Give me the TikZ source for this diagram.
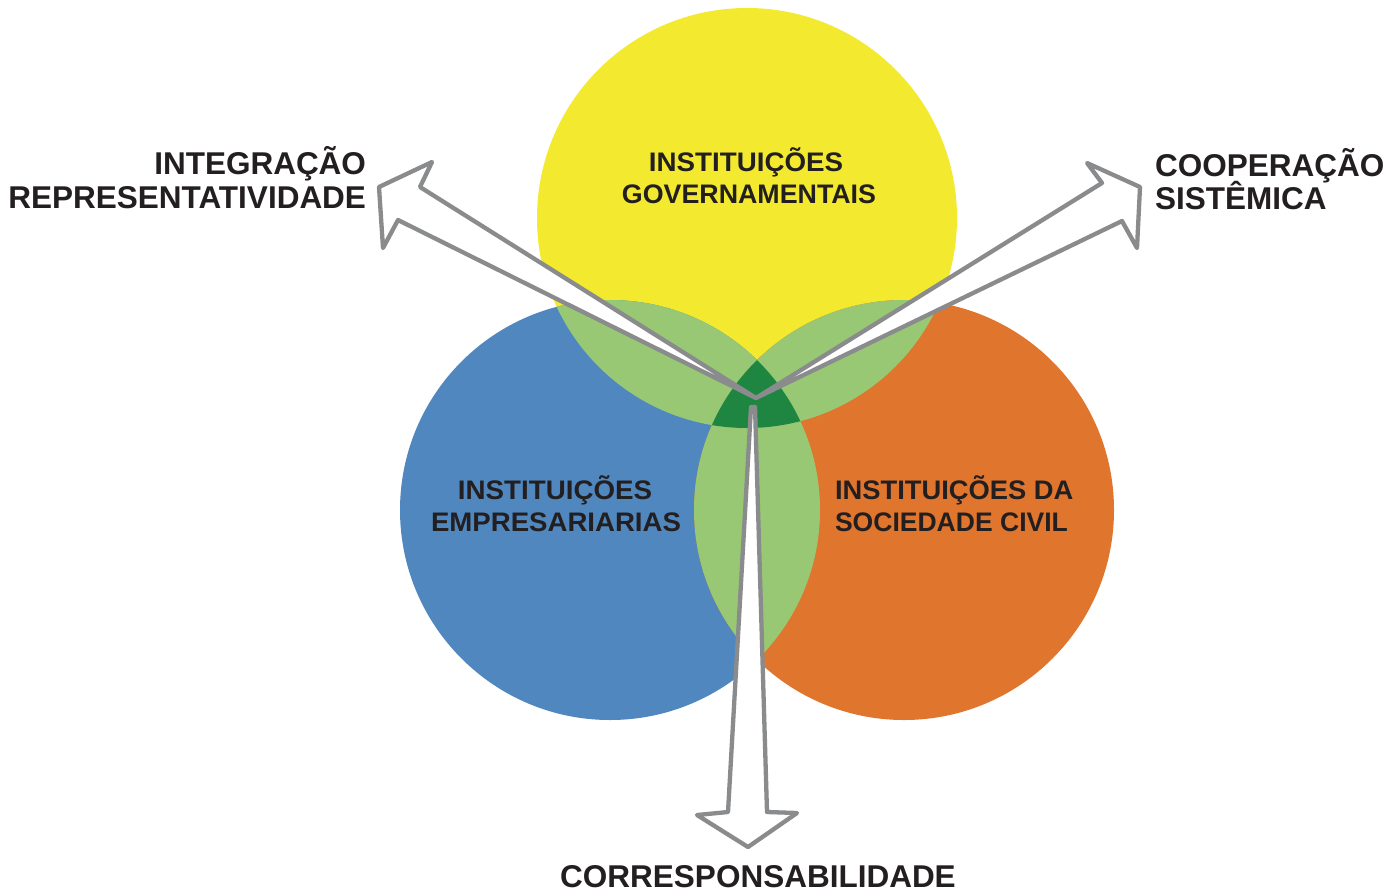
\documentclass[tikz,border=0pt]{standalone}
\usepackage{fontspec}
\usepackage{graphicx}
\setmainfont{Liberation Sans}
\definecolor{cyel}{HTML}{F3EA2F}
\definecolor{cblu}{HTML}{4F87BE}
\definecolor{cora}{HTML}{E0752D}
\definecolor{clgr}{HTML}{98C873}
\definecolor{cdgr}{HTML}{1F8641}
\definecolor{cgry}{HTML}{8A8B8D}
\definecolor{ctxt}{HTML}{231F20}
\newcommand{\outfnt}{\fontsize{31.5}{36}\selectfont\bfseries}
\newcommand{\infnt}{\fontsize{26.8}{30}\selectfont\bfseries}
\begin{document}
\begin{tikzpicture}[x=1pt,y=-1pt,
  outerlbl/.style={inner sep=0pt,outer sep=0pt,text=ctxt,font=\outfnt},
  innerlbl/.style={inner sep=0pt,outer sep=0pt,text=ctxt,font=\infnt},
  bigarrow/.style={draw=cgry,fill=white,line width=4.3pt,line join=round}]
\useasboundingbox[fill=white] (0,0) rectangle (1391,892);
\coordinate (cy) at (747,218);
\coordinate (cb) at (610,510);
\coordinate (co) at (904,510);
% circles
\fill[cyel] (cy) circle[radius=210];
\fill[cblu] (cb) circle[radius=210];
\fill[cora] (co) circle[radius=210];
% pairwise overlaps
\begin{scope}
  \clip (cy) circle[radius=210];
  \fill[clgr] (cb) circle[radius=210];
  \fill[clgr] (co) circle[radius=210];
\end{scope}
\begin{scope}
  \clip (cb) circle[radius=210];
  \fill[clgr] (co) circle[radius=210];
\end{scope}
% triple overlap
\begin{scope}
  \clip (cy) circle[radius=210];
  \clip (cb) circle[radius=210];
  \fill[cdgr] (co) circle[radius=210];
\end{scope}
% inner labels
\node[innerlbl,anchor=base] (g1) at (746,171) {\scalebox{1.035}[1]{INSTITUIÇÕES}};
\node[innerlbl,anchor=base] (g2) at (749,203) {\scalebox{1.0}[1]{GOVERNAMENTAIS}};
\node[innerlbl,anchor=base] (b1) at (555,499) {\scalebox{1.035}[1]{INSTITUIÇÕES}};
\node[innerlbl,anchor=base] (b2) at (556,531) {\scalebox{1.03}[1]{EMPRESARIARIAS}};
\node[innerlbl,anchor=base west] (o1) at (835,499) {\scalebox{1.02}[1]{INSTITUIÇÕES DA}};
\node[innerlbl,anchor=base west] (o2) at (835,531) {\scalebox{0.99}[1]{SOCIEDADE CIVIL}};
% arrows
\coordinate (tail) at (756,398);
\draw[bigarrow] (tail) -- (398,220) -- (383,248) -- (379,187) -- (432,162) -- (420,187) -- cycle;
\draw[bigarrow] (tail) -- (1102,183) -- (1087,163) -- (1140,187) -- (1137,248) -- (1122,221) -- cycle;
\coordinate (dtl) at (751,407);
\coordinate (dtr) at (755,407);
\draw[bigarrow] (dtl) -- (728,812) -- (697,815) -- (748,847) -- (797,813) -- (767,812) -- (dtr) -- cycle;
% outer labels
\node[outerlbl,anchor=base east] (l1) at (366,174) {INTEGRAÇÃO};
\node[outerlbl,anchor=base east] (l2) at (366,208) {REPRESENTATIVIDADE};
\node[outerlbl,anchor=base west] (r1) at (1155,176) {COOPERAÇÃO};
\node[outerlbl,anchor=base west] (r2) at (1155,209) {SISTÊMICA};
\node[outerlbl,anchor=base] (d1) at (758,887) {CORRESPONSABILIDADE};
\end{tikzpicture}
\end{document}
